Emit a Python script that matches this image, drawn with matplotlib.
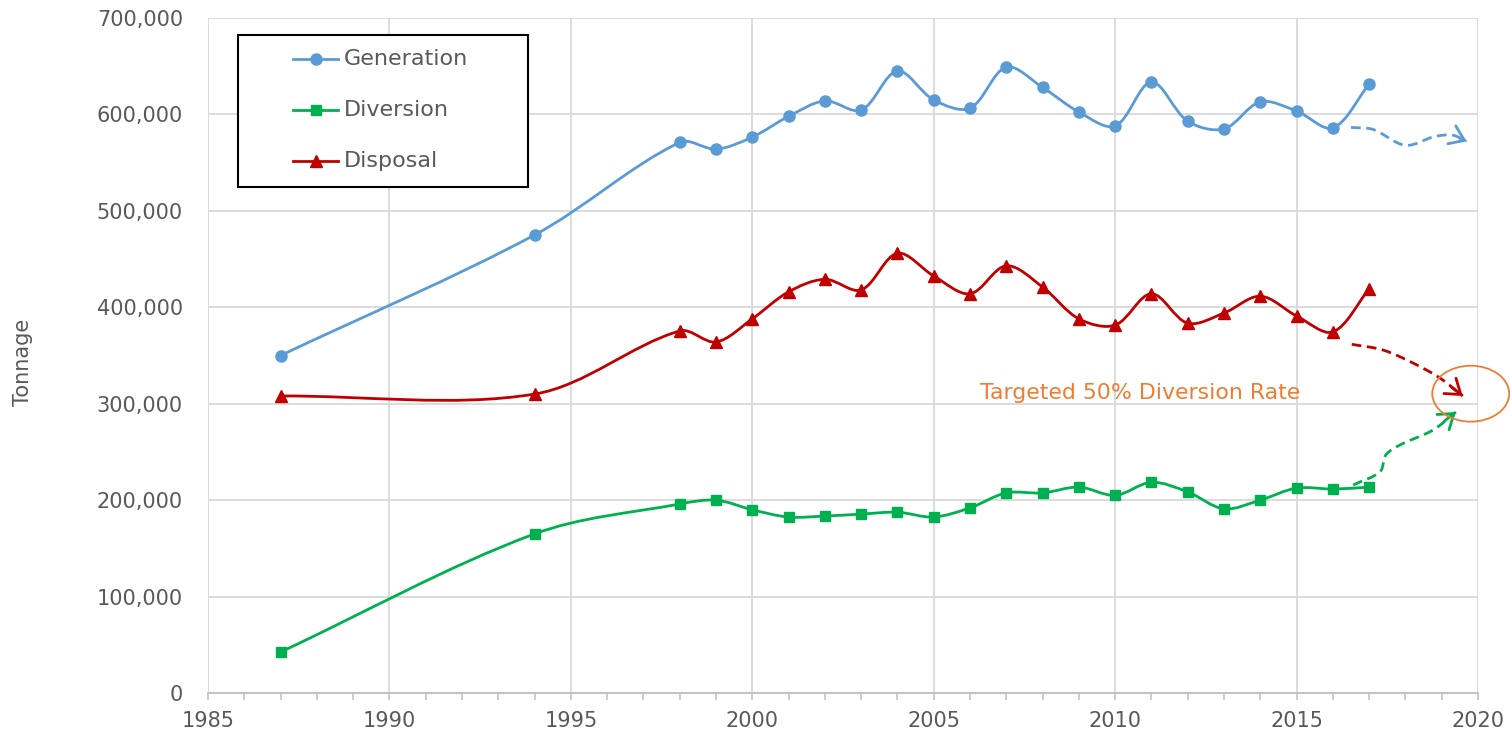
import numpy as np
import matplotlib
matplotlib.use("Agg")
import matplotlib.pyplot as plt
from matplotlib.path import Path
from matplotlib.patches import PathPatch, Ellipse, Rectangle
from matplotlib.lines import Line2D
from matplotlib.ticker import FuncFormatter, MultipleLocator

# ---------------- data ----------------
years = [1987, 1994, 1998, 1999, 2000, 2001, 2002, 2003, 2004, 2005, 2006,
         2007, 2008, 2009, 2010, 2011, 2012, 2013, 2014, 2015, 2016, 2017]
generation = [350000, 475000, 571000, 564000, 576500, 598000, 614000, 604500,
              645000, 615000, 606500, 649000, 628000, 602500, 588000, 633500,
              593000, 585000, 613000, 603500, 586000, 631500]
diversion = [42500, 165000, 196000, 200000, 190000, 182500, 183500, 185500,
             187500, 182500, 192000, 207500, 207500, 213500, 205000, 218500,
             208500, 191000, 200000, 212500, 211500, 213500]
disposal = [308000, 310000, 375500, 364000, 388000, 416000, 429000, 418000,
            456000, 432500, 414000, 443000, 421000, 388000, 381500, 414000,
            383500, 394000, 411500, 391000, 374500, 419000]

# projected (hand-drawn) trend arrows
gen_proj_x = [2016.5, 2017.1, 2018.0, 2018.8, 2019.3, 2019.69]
gen_proj_y = [586500, 584500, 568000, 577000, 578500, 572000]
dis_proj_x = [2016.52, 2017.38, 2018.21, 2018.95, 2019.58]
dis_proj_y = [361600, 355700, 342200, 326700, 308000]
div_proj_x = [2016.56, 2017.30, 2017.46, 2017.85, 2018.76, 2019.39]
div_proj_y = [215700, 229500, 246800, 257200, 272700, 291400]

target_label = "Targeted 50% Diversion Rate"
target_center = (2019.8, 310400)

series_names = ["Generation", "Diversion", "Disposal"]
colors = {"Generation": "#5B9BD5", "Diversion": "#00B050", "Disposal": "#C00000"}
markers = {"Generation": ("o", 8), "Diversion": ("s", 7), "Disposal": ("^", 8)}
orange = "#ED7D31"
txt_color = "#595959"
grid_color = "#D9D9D9"

fig = plt.figure(figsize=(15.1, 7.44), dpi=100)
ax = fig.add_axes([208 / 1510, 1 - 693 / 744, 1270 / 1510, 675 / 744])
ax.set_xlim(1985, 2020)
ax.set_ylim(0, 700000)


def smooth_path(xs, ys):
    """Excel-like smoothed Bezier curve, computed in display space."""
    pts_d = np.column_stack([xs, ys]).astype(float)
    pts = ax.transData.transform(pts_d)
    n = len(pts)
    verts = [pts[0]]
    codes = [Path.MOVETO]
    for i in range(n - 1):
        p0 = pts[i - 1] if i > 0 else pts[i]
        p1 = pts[i]
        p2 = pts[i + 1]
        p3 = pts[i + 2] if i + 2 < n else pts[i + 1]
        d01 = np.hypot(*(p1 - p0))
        d12 = np.hypot(*(p2 - p1))
        d23 = np.hypot(*(p3 - p2))
        f1 = d12 / (d01 + d12) / 3.0 if (d01 + d12) > 0 else 0
        f2 = d12 / (d12 + d23) / 3.0 if (d12 + d23) > 0 else 0
        if i == 0:
            c1 = p1 + (p2 - p1) / 3.0
        else:
            c1 = p1 + (p2 - p0) * f1
        if i + 2 >= n:
            c2 = p2 - (p2 - p1) / 3.0
        else:
            c2 = p2 - (p3 - p1) * f2
        verts += [c1, c2, p2]
        codes += [Path.CURVE4] * 3
    verts = ax.transData.inverted().transform(np.array(verts))
    return Path(verts, codes)


data = {"Generation": generation, "Diversion": diversion, "Disposal": disposal}
for name in series_names:
    c = colors[name]
    m, ms = markers[name]
    ax.add_patch(PathPatch(smooth_path(years, data[name]), fill=False,
                           ec=c, lw=2.0, zorder=3, capstyle="round"))
    ax.plot(years, data[name], ls="none", marker=m, ms=ms, color=c, zorder=4)

# dashed projection arrows
for px, py, name in [(gen_proj_x, gen_proj_y, "Generation"),
                     (dis_proj_x, dis_proj_y, "Disposal"),
                     (div_proj_x, div_proj_y, "Diversion")]:
    c = colors[name]
    ax.add_patch(PathPatch(smooth_path(px, py), fill=False, ec=c, lw=2.0,
                           ls=(0, (3.5, 2)), zorder=3, clip_on=False))
    tip = (px[-1], py[-1])
    back = (px[-1] - (px[-1] - px[-2]) * 0.5, py[-1] - (py[-1] - py[-2]) * 0.5)
    ax.annotate("", xy=tip, xytext=back,
                arrowprops=dict(arrowstyle="->,head_length=0.5,head_width=0.35",
                                color=c, lw=2.0, mutation_scale=20,
                                shrinkA=0, shrinkB=0),
                annotation_clip=False, zorder=4)

# target ellipse and label
ax.add_patch(Ellipse(target_center, width=2.12, height=58000, fill=False,
                     ec=orange, lw=1.3, zorder=4, clip_on=False))
ax.text(2006.27, 311000, target_label, color=orange, fontsize=15.8,
        ha="left", va="center", zorder=5)

# axes styling
ax.xaxis.set_major_locator(MultipleLocator(5))
ax.xaxis.set_minor_locator(MultipleLocator(1))
ax.yaxis.set_major_locator(MultipleLocator(100000))
ax.yaxis.set_major_formatter(FuncFormatter(lambda v, p: f"{int(v):,}"))
ax.grid(True, which="major", color=grid_color, lw=1.3, zorder=0)
ax.set_axisbelow(True)
for s in ["left", "top", "right"]:
    ax.spines[s].set_visible(False)
ax.spines["bottom"].set_color("#BFBFBF")
ax.spines["bottom"].set_linewidth(1.3)
ax.tick_params(axis="x", which="both", direction="out", length=5,
               color="#BFBFBF", width=1.1, labelsize=15, labelcolor=txt_color, pad=8)
ax.tick_params(axis="y", length=0, labelsize=15, labelcolor=txt_color, pad=18)
ax.set_ylabel("Tonnage", fontsize=15, color=txt_color)
ax.yaxis.set_label_coords(-0.138, 0.49)

# legend (drawn as framed box)
x0, y0 = (238 - 208) / 1270, (693 - 187) / 675
w, h = (528 - 238) / 1270, (187 - 35) / 675
ax.add_patch(Rectangle((x0, y0), w, h, transform=ax.transAxes, fc="white",
                       ec="black", lw=1.5, zorder=6, clip_on=False))
lx0, lx1 = (293 - 208) / 1270, (338 - 208) / 1270
tx = (344 - 208) / 1270
rows = [(693 - 59) / 675, (693 - 110) / 675, (693 - 161) / 675]
for name, ry in zip(series_names, rows):
    c = colors[name]
    m, ms = markers[name]
    ax.add_line(Line2D([lx0, lx1], [ry, ry], transform=ax.transAxes, color=c,
                       lw=2.0, zorder=7))
    ax.add_line(Line2D([(lx0 + lx1) / 2], [ry], transform=ax.transAxes, color=c,
                       marker=m, ms=ms, ls="none", zorder=8))
    ax.text(tx, ry, name, transform=ax.transAxes, fontsize=16, color=txt_color,
            ha="left", va="center", zorder=8)

fig.savefig("out.png", dpi=100)
